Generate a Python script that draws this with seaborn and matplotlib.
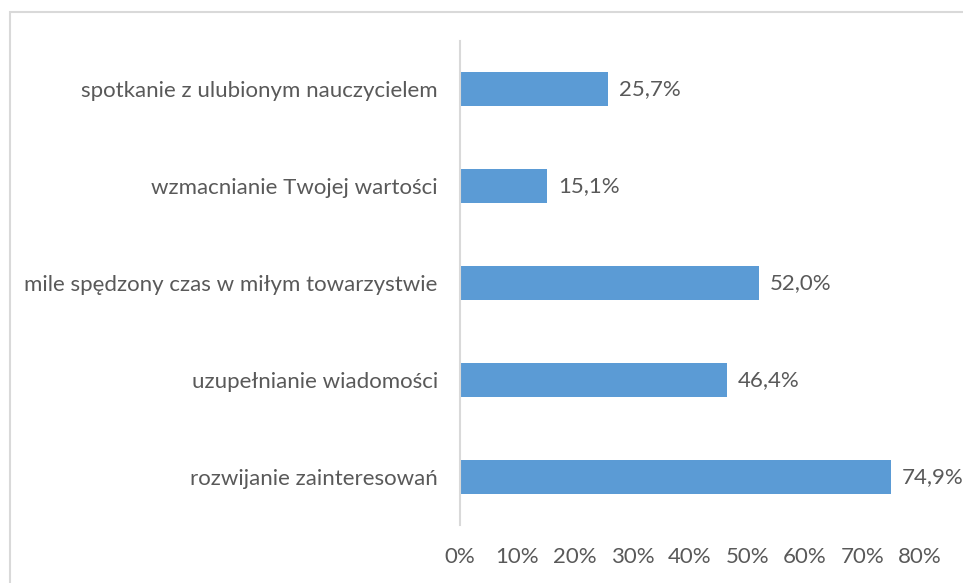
import matplotlib.pyplot as plt
import seaborn as sns
from matplotlib.patches import Rectangle

# dane z wykresu
kategorie = [
    "spotkanie z ulubionym nauczycielem",
    "wzmacnianie Twojej wartości",
    "mile spędzony czas w miłym towarzystwie",
    "uzupełnianie wiadomości",
    "rozwijanie zainteresowań",
]
procenty = [25.7, 15.1, 52.0, 46.4, 74.9]
osi_ticki = [0, 10, 20, 30, 40, 50, 60, 70, 80]

sns.set_theme(style="white")
plt.rcParams["font.family"] = ["Lato", "DejaVu Sans"]

szary = "#595959"

fig = plt.figure(figsize=(9.63, 5.83), dpi=100)
ax = fig.add_axes([460 / 963, 1 - 525 / 583, 460 / 963, 484 / 583])

sns.barplot(x=procenty, y=kategorie, orient="h", color="#5B9BD5",
            width=0.35, linewidth=0, saturation=1, ax=ax)

ax.set_xlim(0, 80)
ax.set_ylim(4.5, -0.5)
ax.set_xticks(osi_ticki)
ax.set_xticklabels([f"{t}%" for t in osi_ticki])
ax.tick_params(axis="x", length=0, pad=16, labelsize=16, labelcolor=szary)
ax.tick_params(axis="y", length=0, pad=16, labelsize=16, labelcolor=szary)
ax.set_xlabel("")
ax.set_ylabel("")

for s in ["top", "right", "bottom"]:
    ax.spines[s].set_visible(False)
ax.spines["left"].set_color("#D9D9D9")
ax.spines["left"].set_linewidth(1.5)

ax.bar_label(ax.containers[0],
             labels=[f"{v:.1f}%".replace(".", ",") for v in procenty],
             padding=8, fontsize=16, color=szary)

# ramka wokół wykresu
fig.patches.append(Rectangle((10 / 963, -0.1), 1.2, 1 - 12 / 583 + 0.1,
                             transform=fig.transFigure, fill=False,
                             edgecolor="#D9D9D9", linewidth=1.5))

plt.savefig("out.png", dpi=100)
